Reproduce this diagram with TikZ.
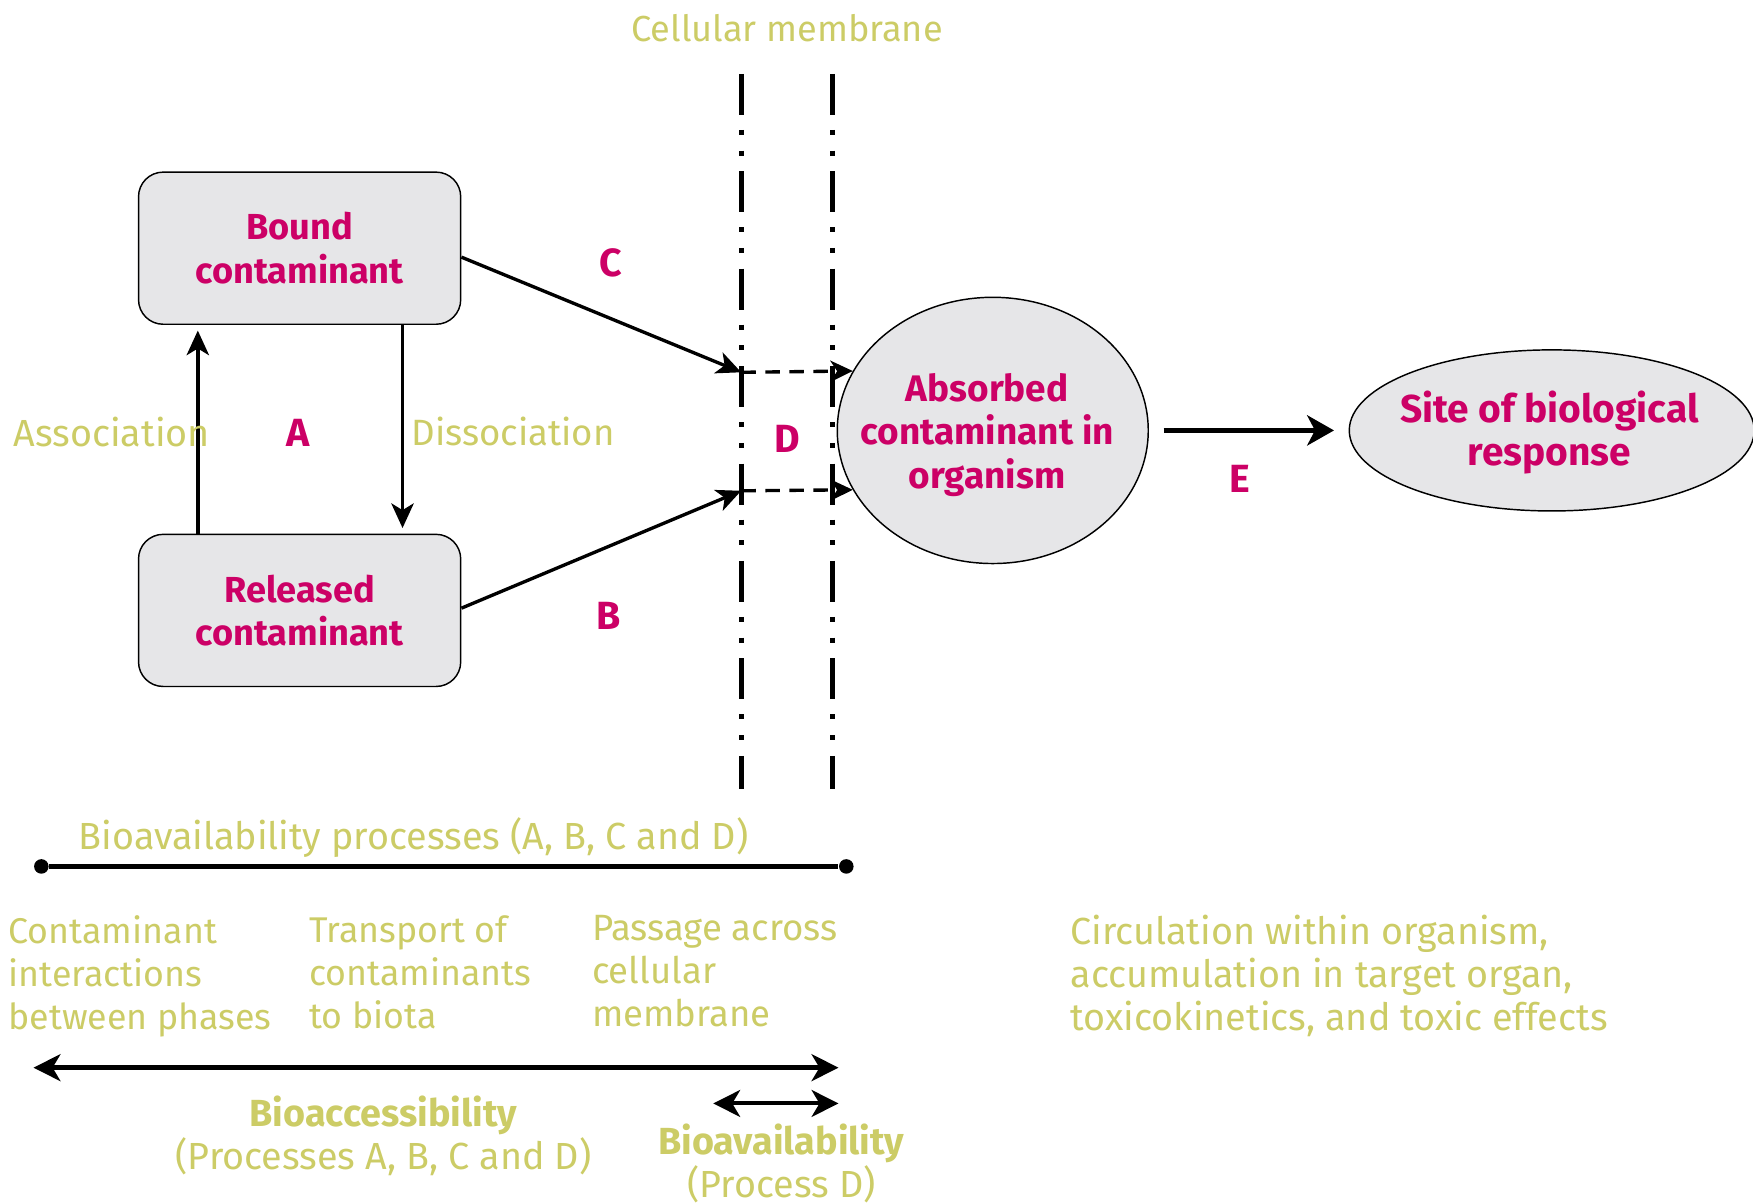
\documentclass[tikz,border=0pt]{standalone}
\usepackage{fontspec}
\setmainfont{Fira Sans}
\usetikzlibrary{arrows.meta,shapes.geometric}
\definecolor{mag}{HTML}{CC0066}
\definecolor{olv}{HTML}{CCCC66}
\definecolor{boxfill}{HTML}{E6E6E8}
\tikzset{
  box/.style={draw, line width=0.013cm, fill=boxfill, rounded corners=0.22cm,
    minimum width=2.88cm, minimum height=1.36cm, align=center, text=mag,
    font=\bfseries\fontsize{9.2}{11.1}\selectfont, inner sep=0pt},
  ell/.style={draw, ellipse, line width=0.013cm, fill=boxfill, inner sep=0pt},
  magtext/.style={align=center, text=mag, inner sep=0pt},
  maglbl/.style={text=mag, font=\bfseries\fontsize{10}{12}\selectfont, inner sep=0pt},
  olvt/.style={text=olv, font=\fontsize{9.6}{10.95}\selectfont, inner sep=0pt},
  arr/.style={line width=0.03cm, -{Stealth[length=0.22cm,width=0.2cm,inset=0.06cm]}},
  darr/.style={line width=0.03cm, dash pattern=on 0.13cm off 0.085cm,
    -{Stealth[length=0.2cm,width=0.19cm,inset=0.06cm]}},
  membrane/.style={line width=0.042cm,
    dash pattern=on 0.367cm off 0.134cm on 0.045cm off 0.14cm on 0.045cm off 0.14cm},
  dbl/.style={line width=0.045cm, {Stealth[length=0.24cm,width=0.24cm,inset=0.07cm]}-{Stealth[length=0.24cm,width=0.24cm,inset=0.07cm]}},
  dot/.style={circle, fill=black, inner sep=0pt, minimum size=0.13cm},
}
\begin{document}
\begin{tikzpicture}[x=0.01cm,y=-0.01cm]
\clip (0,0) rectangle (1568,1076);
\fill[white] (0,0) rectangle (1568,1076);

% membrane
\node[olvt, font=\fontsize{9.2}{12}\selectfont] (memlbl) at (704,25) {Cellular membrane};
\coordinate (m1t) at (663,66);
\coordinate (m1b) at (663,706);
\coordinate (m2t) at (744.5,66);
\coordinate (m2b) at (744.5,706);
\draw[membrane] (m1t) -- (m1b);
\draw[membrane] (m2t) -- (m2b);

% boxes
\node[box] (bound) at (268,222) {Bound\\contaminant};
\node[box] (rel) at (268,546) {Released\\contaminant};
\node[ell, minimum width=2.78cm, minimum height=2.38cm] (abs) at (888,385) {};
\node[magtext, font=\bfseries\fontsize{9.4}{11.1}\selectfont] (abst) at (883,389) {Absorbed\\contaminant in\\organism};
\node[ell, minimum width=3.62cm, minimum height=1.44cm] (site) at (1388,385) {};
\node[magtext, font=\bfseries\fontsize{9.9}{11.1}\selectfont] (sitet) at (1386,387) {Site of biological\\response};

% A
\draw[arr] ([xshift=-0.91cm]rel.north) -- ([xshift=-0.91cm,yshift=-0.05cm]bound.south);
\draw[arr] ([xshift=0.92cm]bound.south) -- ([xshift=0.92cm,yshift=0.05cm]rel.north);
\node[olvt] (assoc) at (100,386) {Association};
\node[olvt, font=\fontsize{9.3}{10.95}\selectfont] (dissoc) at (459,386) {Dissociation};
\node[maglbl] (A) at (267,387) {A};

% C and B
\coordinate (cin) at (663,333);
\coordinate (bin) at (663,439);
\draw[arr] ([yshift=-0.08cm]bound.east) -- (cin);
\draw[arr] ([yshift=0.02cm]rel.east) -- (bin);
\node[maglbl] (C) at (546,235) {C};
\node[maglbl] (B) at (544,551) {B};

% D
\draw[darr] (cin) -- (abs.157.4);
\draw[darr] (bin) -- (abs.203.5);
\node[maglbl] (D) at (704,393) {D};

% E
\draw[arr, line width=0.04cm, -{Stealth[length=0.24cm,width=0.27cm,inset=0.07cm]}] ([xshift=0.13cm]abs.east) -- ([xshift=-0.13cm]site.west);
\node[maglbl] (E) at (1109,428) {E};

% bottom
\node[olvt] (bproc) at (370,749) {Bioavailability processes (A, B, C and D)};
\node[dot] (p1) at (37,775) {};
\node[dot] (p2) at (757,775) {};
\draw[line width=0.045cm] (p1) -- (p2);

\node[olvt, font=\fontsize{9.1}{10.95}\selectfont, anchor=north west, align=left] (col1) at (7,818) {Contaminant\\interactions\\between phases};
\node[olvt, font=\fontsize{9.1}{10.95}\selectfont, anchor=north west, align=left] (col2) at (276,818) {Transport of\\contaminants\\to biota};
\node[olvt, font=\fontsize{9.3}{10.95}\selectfont, anchor=north west, align=left] (col3) at (529,818) {Passage across\\cellular\\membrane};
\node[olvt, anchor=north west, align=left] (col4) at (957,818) {Circulation within organism,\\accumulation in target organ,\\toxicokinetics, and toxic effects};

\coordinate (q1) at (30,955);
\coordinate (q2) at (750,955);
\draw[dbl] (q1) -- (q2);
\coordinate (r1) at (638,987);
\coordinate (r2) at (750,987);
\draw[dbl, line width=0.035cm] (r1) -- (r2);

\node[olvt, align=center] (bacc) at (343,1016) {\textbf{Bioaccessibility}\\(Processes A, B, C and D)};
\node[olvt, align=center] (bavl) at (699,1041) {\textbf{Bioavailability}\\(Process D)};
\end{tikzpicture}
\end{document}
